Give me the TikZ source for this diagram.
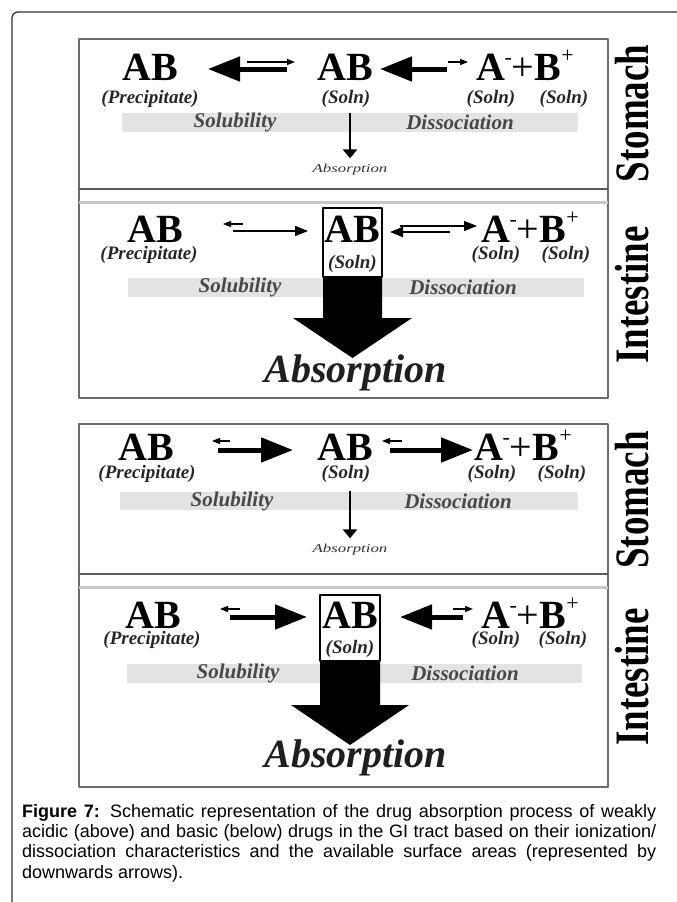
\documentclass[tikz,border=0pt]{standalone}
\usepackage{fontspec}
\setmainfont{Liberation Serif}
\newfontfamily\capfont{Liberation Sans}
\usepackage{tikz}
\usetikzlibrary{arrows.meta}
\usetikzlibrary{calc}

\newcommand{\ionpair}{A\kern-0.5pt\raisebox{16pt}{\fontsize{22}{22}\selectfont\mdseries -}\kern-1pt{\mdseries +}\kern1pt B\raisebox{18pt}{\fontsize{22}{22}\selectfont\mdseries +}}

\begin{document}
\begin{tikzpicture}[x=1pt,y=-1pt,line join=round,
	species/.style={inner sep=0pt,text height=27pt,text depth=0pt,font=\fontsize{40}{40}\selectfont\bfseries},
	phase/.style={inner sep=0pt,font=\fontsize{19}{19}\selectfont\bfseries\itshape,text=black!85},
	process/.style={inner sep=0pt,font=\fontsize{21}{21}\selectfont\bfseries\itshape,text=black!72},
	gutbar/.style={fill=black!11,draw=none,inner sep=0pt,minimum width=456pt,minimum height=19pt},
	organ/.style={inner sep=0pt,rotate=90,anchor=base,font=\fontsize{48}{48}\selectfont\bfseries},
	panel/.style={draw=black!58,line width=2pt},
	pipebox/.style={draw=black,line width=1.6pt,fill=white,inner sep=0pt,outer sep=0pt,minimum width=59pt},
	tinyabs/.style={inner sep=0pt,font=\fontsize{12}{12}\selectfont\itshape,text=black!80},
	bigabs/.style={inner sep=0pt,anchor=base,font=\fontsize{40}{40}\selectfont\bfseries\itshape,text=black!88},
	bigto/.style={line width=5pt,-{Triangle[length=32pt,width=24pt]}},
	midto/.style={line width=1.6pt,-{Triangle[length=13pt,width=10pt]}},
	smallto/.style={line width=1.3pt,-{Triangle[length=8pt,width=6pt]}},
	downflow/.style={line width=2.8pt,-{Triangle[length=9pt,width=14pt]}}]
	\useasboundingbox (0,0) rectangle (677,902);
	% outer frame and panels
	\draw[black!80,line width=1.3pt,rounded corners=6pt] (12,903) -- (12,12) -- (678,12);
	\draw[panel] (79,39) rectangle (608,398);
	\draw[black!65,line width=2pt] (79,189) -- (608,189);
	\draw[black!22,line width=3pt] (79,202.5) -- (608,202.5);
	\draw[panel] (79,424) rectangle (608,787);
	\draw[black!65,line width=2pt] (79,574) -- (608,574);
	\draw[black!22,line width=3pt] (79,587.5) -- (608,587.5);
	% acidic drug - stomach
	\node[gutbar] (bar1) at (350,122.5) {};
	\node[species] (pre1) at (150,66.5) {AB};
	\node[species] (sol1) at (345,66.5) {AB};
	\node[species] (ion1) at (525,66.5) {\ionpair};
	\node[phase] (pre1st) at (150,99) {(Precipitate)};
	\node[phase] (sol1st) at (346,99) {(Soln)};
	\node[phase] (ionA1st) at (491,99) {(Soln)};
	\node[phase] (ionB1st) at (564,99) {(Soln)};
	\node[process] (solub1) at (235,122) {Solubility};
	\node[process] (dissoc1) at (460,122) {Dissociation};
	\node[tinyabs] (abs1) at (350,170) {\scalebox{1.4}[1]{Absorption}};
	\draw[bigto] ($(sol1)+(-58,2.5)$) -- ($(pre1)+(58,2.5)$);
	\draw[smallto] ($(pre1)+(97,-4.5)$) -- ($(sol1)+(-50,-4.5)$);
	\draw[bigto] ($(ion1)+(-78,2.5)$) -- ($(sol1)+(35,2.5)$);
	\draw[smallto] ($(sol1)+(103,-4.5)$) -- ($(ion1)+(-57,-4.5)$);
	\draw[downflow] ($(sol1st.south)+(4,5)$) -- ($(abs1.north)+(0,-6)$);
	\node[organ] (stom1) at (648,113.5) {\scalebox{0.77}[1]{Stomach}};
	% acidic drug - intestine
	\node[gutbar] (bar2) at (355.5,287.5) {};
	\node[pipebox,minimum height=69pt] (pipe2) at (352.5,242.5) {};
	\fill[black] (pipe2.south west) -- ++(0,41) -- ++(-30,0) -- ($(pipe2.south)+(0,81)$)
		-- ($(pipe2.south east)+(30,41)$) -- ($(pipe2.south east)+(0,41)$) -- (pipe2.south east) -- cycle;
	\node[species] (pre2) at (155,228.5) {AB};
	\node[species] (sol2) at (352.5,228.5) {AB};
	\node[species] (ion2) at (530,228.5) {\ionpair};
	\node[phase] (pre2st) at (149,255) {(Precipitate)};
	\node[phase] (sol2st) at (352.5,264) {(Soln)};
	\node[phase] (ionA2st) at (496,255) {(Soln)};
	\node[phase] (ionB2st) at (566,255) {(Soln)};
	\node[process] (solub2) at (240,287) {Solubility};
	\node[process] (dissoc2) at (463,287) {Dissociation};
	\node[bigabs] (absb2) at (355.5,382) {Absorption};
	\draw[smallto] ($(sol2)+(-109.5,-4.5)$) -- ($(pre2)+(68,-4.5)$);
	\draw[midto] ($(pre2)+(78,2.5)$) -- ($(sol2)+(-44.5,2.5)$);
	\draw[midto] ($(ion2)+(-80,3.5)$) -- ($(sol2)+(37.5,3.5)$);
	\draw[midto] ($(sol2)+(47.5,-2.5)$) -- ($(ion2)+(-53,-2.5)$);
	\node[organ] (inte2) at (648,295) {\scalebox{0.77}[1]{Intestine}};
	% basic drug - stomach
	\node[gutbar,minimum width=458pt,minimum height=18pt] (bar3) at (349,501) {};
	\node[species] (pre3) at (146,447) {AB};
	\node[species] (sol3) at (345,447) {AB};
	\node[species] (ion3) at (523,447) {\ionpair};
	\node[phase] (pre3st) at (147,474) {(Precipitate)};
	\node[phase] (sol3st) at (346,474) {(Soln)};
	\node[phase] (ionA3st) at (492,474) {(Soln)};
	\node[phase] (ionB3st) at (562,474) {(Soln)};
	\node[process] (solub3) at (232,501) {Solubility};
	\node[process] (dissoc3) at (458,501) {Dissociation};
	\node[tinyabs] (abs3) at (350,550) {\scalebox{1.4}[1]{Absorption}};
	\draw[smallto] ($(sol3)+(-115,-6)$) -- ($(pre3)+(66,-6)$);
	\draw[bigto] ($(pre3)+(72,3)$) -- ($(sol3)+(-52,3)$);
	\draw[smallto] ($(ion3)+(-121,-6)$) -- ($(sol3)+(37,-6)$);
	\draw[bigto] ($(sol3)+(45,3)$) -- ($(ion3)+(-50,3)$);
	\draw[downflow] ($(sol3st.south)+(4,8)$) -- ($(abs3.north)+(0,-6)$);
	\node[organ] (stom3) at (648,500) {\scalebox{0.77}[1]{Stomach}};
	% basic drug - intestine
	\node[gutbar,minimum width=455pt] (bar4) at (354.5,673) {};
	\node[pipebox,minimum width=60pt,minimum height=66pt] (pipe4) at (350,628) {};
	\fill[black] (pipe4.south west) -- ++(0,44) -- ++(-29,0) -- ($(pipe4.south)+(0,84)$)
		-- ($(pipe4.south east)+(29,44)$) -- ($(pipe4.south east)+(0,44)$) -- (pipe4.south east) -- cycle;
	\node[species] (pre4) at (153,615) {AB};
	\node[species] (sol4) at (350,615) {AB};
	\node[species] (ion4) at (530,615) {\ionpair};
	\node[phase] (pre4st) at (152,640) {(Precipitate)};
	\node[phase] (sol4st) at (350,649) {(Soln)};
	\node[phase] (ionA4st) at (496,640) {(Soln)};
	\node[phase] (ionB4st) at (563,640) {(Soln)};
	\node[process] (solub4) at (238,673) {Solubility};
	\node[process] (dissoc4) at (465,673) {Dissociation};
	\node[bigabs] (absb4) at (355.5,767) {Absorption};
	\draw[smallto] ($(sol4)+(-110,-6)$) -- ($(pre4)+(67,-6)$);
	\draw[bigto] ($(pre4)+(77,2)$) -- ($(sol4)+(-43,2)$);
	\draw[bigto] ($(ion4)+(-67,2)$) -- ($(sol4)+(50,2)$);
	\draw[smallto] ($(sol4)+(103,-6)$) -- ($(ion4)+(-57,-6)$);
	\node[organ] (inte4) at (648,677) {\scalebox{0.77}[1]{Intestine}};
	% caption
	\node[inner sep=0pt,anchor=north west,text width=634pt,align=justify,font=\capfont\fontsize{18}{20.3}\selectfont] (cap) at (22,804)
		{\textbf{Figure 7:} Schematic representation of the drug absorption process of weakly\linebreak
		acidic (above) and basic (below) drugs in the GI tract based on their ionization/\linebreak
		dissociation characteristics and the available surface areas (represented by\linebreak
		downwards arrows).};
\end{tikzpicture}
\end{document}
